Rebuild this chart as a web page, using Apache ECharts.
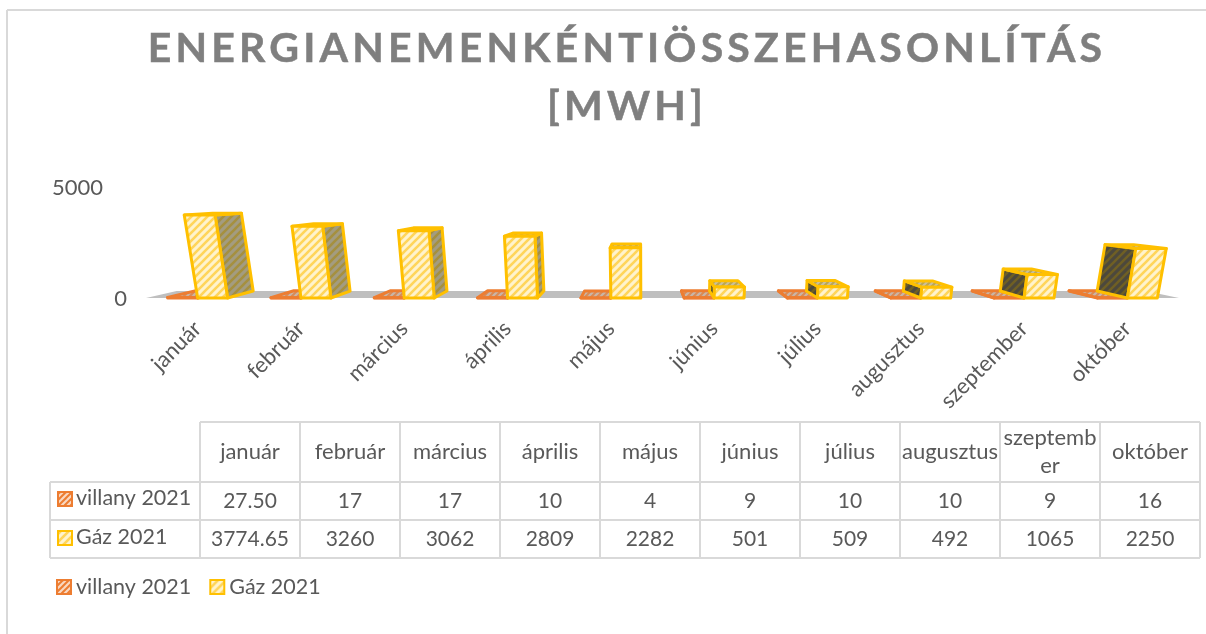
<!DOCTYPE html>
<html>
<head>
<meta charset="utf-8">
<title>Energia</title>
<script src="https://cdn.jsdelivr.net/npm/echarts@6/dist/echarts.min.js"></script>
<style>
  html, body { margin: 0; padding: 0; background: #fff; }
  #wrap { position: relative; width: 1206px; height: 634px; overflow: hidden; }
  #container { position: absolute; left: 0; top: 0; width: 1206px; height: 634px; }
  #heading {
    position: absolute; left: 5px; width: 1244px; top: 18px; margin: 0;
    text-align: center; white-space: nowrap;
    font: bold 41px/58px Lato, sans-serif; letter-spacing: 4.2px; color: #7f7f7f;
    -webkit-text-stroke: 0.5px #7f7f7f;
  }
</style>
</head>
<body>
<div id="wrap">
  <div id="container"></div>
  <h1 id="heading">ENERGIANEMENKÉNTIÖSSZEHASONLÍTÁS<br>[MWH]</h1>
</div>
<script>
var months = ["január", "február", "március", "április", "május", "június", "július", "augusztus", "szeptember", "október"];
var villany = [27.5, 17, 17, 10, 4, 9, 10, 10, 9, 16];
var gaz = [3774.65, 3260, 3062, 2809, 2282, 501, 509, 492, 1065, 2250];
var villanyName = "villany 2021";
var gazName = "Gáz 2021";
var yTicks = [0, 5000];

var textColor = "#595959";
var font = "Lato";

// 1-hatch fills, made on small canvases
function hatch(bg, fg, size, width) {
  var c = document.createElement("canvas");
  c.width = c.height = size;
  var ctx = c.getContext("2d");
  ctx.fillStyle = bg;
  ctx.fillRect(0, 0, size, size);
  ctx.strokeStyle = fg;
  ctx.lineWidth = width;
  [[0, size, size, 0], [-size, size, size, -size], [0, size * 2, size * 2, 0]].forEach(function (l) {
    ctx.beginPath();
    ctx.moveTo(l[0], l[1]);
    ctx.lineTo(l[2], l[3]);
    ctx.stroke();
  });
  return { image: c, repeat: "repeat" };
}

var skins = {
  villany: {
    line: "#ed7d31",
    front: hatch("#f9d9c2", "#ed7d31", 6, 2),
    top: hatch("#c9b6a8", "#d98a55", 6, 2),
    sideR: hatch("#8f7a6a", "#a85a25", 6, 2),
    sideL: hatch("#4a4038", "#6f421f", 6, 2),
  },
  gaz: {
    line: "#ffc000",
    front: hatch("#fff3cc", "#ffd55a", 8, 2.6),
    top: hatch("#c9c0a0", "#bba650", 6, 2),
    sideR: hatch("#a39c80", "#a5903f", 8, 2.6),
    sideL: hatch("#4c483c", "#6f5f24", 8, 2.6),
  },
};

// 2-the picture's 3D look: one vanishing point for depth, one below for the lean
var vanish = [640, 186];
var depth = 0.062;
var leanX = 650;
var leanK = 2800;

function front(x, y0, h) {
  return [x + ((x - leanX) * h) / leanK, y0 - h];
}
function back(p) {
  return [p[0] + depth * (vanish[0] - p[0]), p[1] + depth * (vanish[1] - p[1])];
}

function renderBar(slot, skin) {
  return function (params, api) {
    var base = api.coord([api.value(0), 0]);
    var top = api.coord([api.value(0), api.value(1)]);
    var w = api.size([1, 0])[0] * 0.29;
    var h = base[1] - top[1];
    var xl = base[0] + slot * w;
    var xr = xl + w;
    var bl = front(xl, base[1], 0), br = front(xr, base[1], 0);
    var tl = front(xl, base[1], h), tr = front(xr, base[1], h);
    var style = { stroke: skin.line, lineWidth: 3, lineJoin: "round" };
    var face = function (points, fill) {
      return { type: "polygon", shape: { points: points }, style: Object.assign({ fill: fill }, style) };
    };
    var kids = [];
    if (xr < vanish[0] - 1) kids.push(face([br, tr, back(tr), back(br)], skin.sideR));
    if (xl > vanish[0] + 1) kids.push(face([bl, tl, back(tl), back(bl)], skin.sideL));
    kids.push(face([tl, tr, back(tr), back(tl)], skin.top));
    kids.push(face([bl, br, tr, tl], skin.front));
    return { type: "group", children: kids };
  };
}

// floor of the 3D plot, follows the grid
function renderFloor(params, api) {
  var c = params.coordSys;
  var y = c.y + c.height;
  var a = [c.x, y], b = [c.x + c.width, y];
  return {
    type: "polygon",
    shape: { points: [a, b, back(b), back(a)] },
    style: { fill: "#bfbfbf" },
  };
}

// 3-data table below the plot
var tableX = [50, 200, 300, 400, 500, 600, 700, 800, 900, 1000, 1100, 1200];
var tableY = [422, 482, 520, 558];

function cellText(v) {
  return v % 1 ? v.toFixed(2) : String(v);
}
function gLine(x1, y1, x2, y2, color) {
  return {
    type: "line",
    silent: true,
    shape: { x1: x1, y1: y1, x2: x2, y2: y2 },
    style: { stroke: color || "#d9d9d9", lineWidth: 2 },
  };
}
function gText(x, y, text, align, size, extra) {
  return {
    type: "text",
    x: x,
    y: y,
    style: Object.assign({ text: text, fill: textColor, font: size + "px " + font, align: align, verticalAlign: "middle" }, extra),
  };
}
function swatch(x, y, skin) {
  return { type: "rect", shape: { x: x, y: y, width: 14, height: 14 }, style: { fill: skin.front, stroke: skin.line, lineWidth: 2 } };
}

var graphics = [gLine(7, 10, 1206, 10), gLine(7, 10, 7, 634)];
tableX.forEach(function (x, i) {
  graphics.push(gLine(x, i === 0 ? tableY[1] : tableY[0], x, tableY[3]));
});
tableY.forEach(function (y, i) {
  graphics.push(gLine(i === 0 ? tableX[1] : tableX[0], y, tableX[tableX.length - 1], y));
});
months.forEach(function (m, i) {
  var cx = (tableX[i + 1] + tableX[i + 2]) / 2;
  graphics.push(gText(cx, 452, m, "center", 22, { width: 98, overflow: "break", lineHeight: 28 }));
  graphics.push(gText(cx, 501, cellText(villany[i]), "center", 21));
  graphics.push(gText(cx, 539, cellText(gaz[i]), "center", 21));
});
graphics.push(swatch(58, 492, skins.villany), gText(76, 498, villanyName, "left", 21.5));
graphics.push(swatch(58, 531, skins.gaz), gText(76, 537, gazName, "left", 21.5));

var option = {
  animation: false,
  textStyle: { fontFamily: font },
  legend: {
    left: 51,
    top: 571,
    itemWidth: 14,
    itemHeight: 14,
    itemGap: 18,
    icon: "rect",
    textStyle: { color: textColor, fontSize: 21.5, fontFamily: font, padding: [0, 0, 0, 0] },
    data: [
      { name: villanyName, itemStyle: { color: skins.villany.front, borderColor: skins.villany.line, borderWidth: 2 } },
      { name: gazName, itemStyle: { color: skins.gaz.front, borderColor: skins.gaz.line, borderWidth: 2 } },
    ],
  },
  grid: { left: 146, top: 188, width: 1033, height: 110 },
  xAxis: {
    type: "category",
    data: months,
    axisLine: { show: false },
    axisTick: { show: false },
    axisLabel: { interval: 0, rotate: 45, margin: 27, color: textColor, fontSize: 22, fontFamily: font },
  },
  yAxis: {
    type: "value",
    min: yTicks[0],
    max: yTicks[1],
    interval: yTicks[1],
    splitLine: { show: false },
    axisLine: { show: false },
    axisTick: { show: false },
    axisLabel: {
      margin: 19,
      color: textColor,
      fontSize: 22,
      fontFamily: font,
      formatter: function (v) {
        return v ? "{far|" + v + "}" : "{near|" + v + "}";
      },
      rich: {
        far: { padding: [0, 24, 0, 0], fontSize: 22, color: textColor, fontFamily: font },
        near: { padding: [2, 0, 0, 0], fontSize: 22, color: textColor, fontFamily: font },
      },
    },
  },
  graphic: graphics,
  series: [
    { name: "padló", type: "custom", silent: true, renderItem: renderFloor, data: [[0, 0]], encode: { x: 0, y: 1 }, z: 1 },
    {
      name: villanyName,
      type: "custom",
      silent: true,
      renderItem: renderBar(-1, skins.villany),
      data: villany.map(function (v, i) { return [i, v]; }),
      encode: { x: 0, y: 1 },
      z: 2,
    },
    {
      name: gazName,
      type: "custom",
      silent: true,
      renderItem: renderBar(0, skins.gaz),
      data: gaz.map(function (v, i) { return [i, v]; }),
      encode: { x: 0, y: 1 },
      z: 3,
    },
  ],
};

var mychart = echarts.init(document.querySelector("#container"));
mychart.setOption(option);
</script>
</body>
</html>
